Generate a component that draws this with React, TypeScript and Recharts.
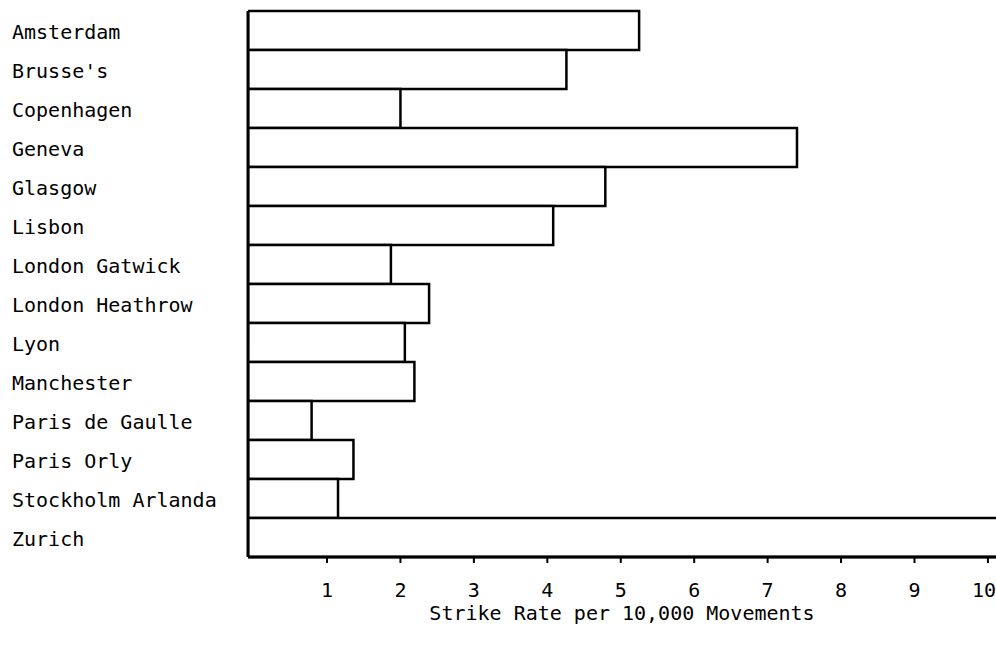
import { BarChart, Bar, XAxis, YAxis } from 'recharts';

const cities = [
  'Amsterdam',
  "Brusse's",
  'Copenhagen',
  'Geneva',
  'Glasgow',
  'Lisbon',
  'London Gatwick',
  'London Heathrow',
  'Lyon',
  'Manchester',
  'Paris de Gaulle',
  'Paris Orly',
  'Stockholm Arlanda',
  'Zurich',
];
const strikeRates = [5.25, 4.26, 2.0, 7.4, 4.79, 4.08, 1.87, 2.39, 2.06, 2.19, 0.79, 1.36, 1.15, 10.4];
const rateTicks = [1, 2, 3, 4, 5, 6, 7, 8, 9, 10];

// axis starts a little left of zero in the original drawing
const X_MIN = -0.076;
const X_MAX = 10.11;

const FONT = '"DejaVu Sans Mono", monospace';

const rows = cities.map((city, i) => ({ city, rate: strikeRates[i] }));

function CityTick({ y, payload }: any) {
  return (
    <text x={12} y={y} dy={8} textAnchor="start" fontFamily={FONT} fontSize={20} fill="#000">
      {payload.value}
    </text>
  );
}

function RateTick({ x, y, payload }: any) {
  // last label sits on the page edge, pull it in a touch
  const nudge = payload.value === 10 ? -4 : 0;
  return (
    <text x={x + nudge} y={y} dy={32} textAnchor="middle" fontFamily={FONT} fontSize={20} fill="#000">
      {payload.value}
    </text>
  );
}

export default function App() {
  return (
    <div style={{ position: 'absolute', left: 0, top: 0, background: '#fff' }}>
      <BarChart
        width={996}
        height={645}
        data={rows}
        layout="vertical"
        barCategoryGap={0}
        margin={{ top: 11, right: 0, bottom: 0, left: 0 }}
      >
        <XAxis
          type="number"
          domain={[X_MIN, X_MAX]}
          allowDataOverflow
          ticks={rateTicks}
          height={88}
          tickSize={6}
          tickMargin={2}
          axisLine={{ stroke: '#000', strokeWidth: 3 }}
          tickLine={{ stroke: '#000', strokeWidth: 2 }}
          tick={<RateTick />}
          label={{
            value: 'Strike Rate per 10,000 Movements',
            position: 'insideBottom',
            offset: 25,
            fontFamily: FONT,
            fontSize: 20,
            fill: '#000',
          }}
        />
        <YAxis
          type="category"
          dataKey="city"
          width={248}
          tickLine={false}
          axisLine={{ stroke: '#000', strokeWidth: 3 }}
          tick={<CityTick />}
        />
        <Bar
          dataKey={(d: any) => [X_MIN, d.rate]}
          fill="#fff"
          stroke="#000"
          strokeWidth={2.5}
          isAnimationActive={false}
        />
      </BarChart>
    </div>
  );
}
